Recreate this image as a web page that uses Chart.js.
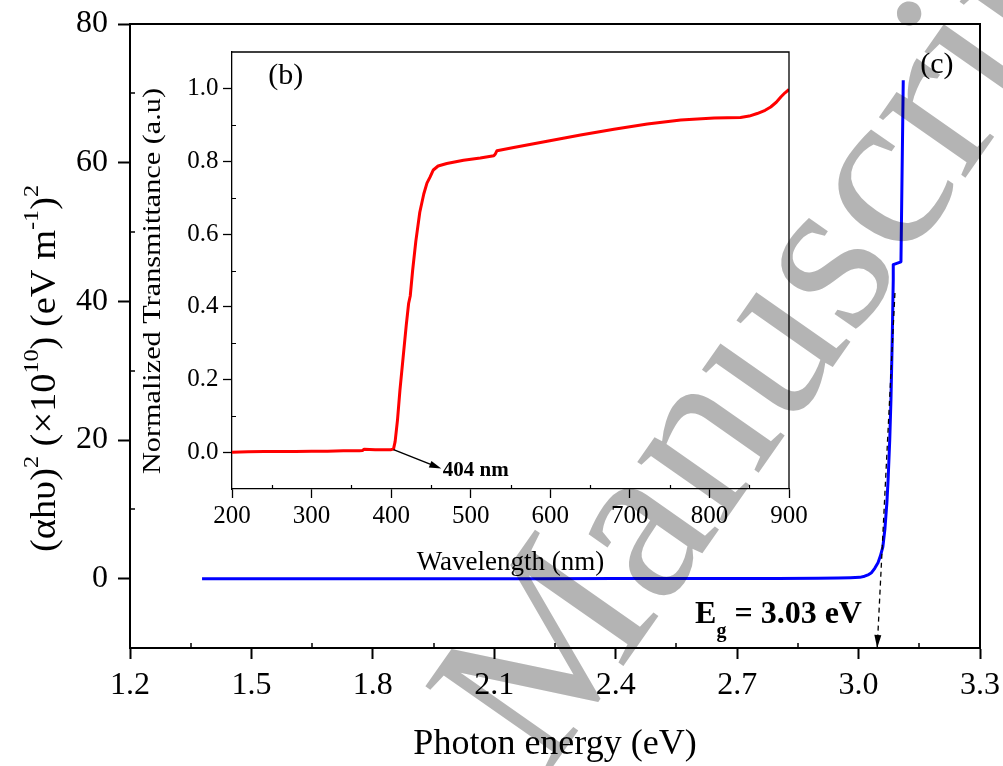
<!DOCTYPE html>
<html><head><meta charset="utf-8">
<script src="https://cdn.jsdelivr.net/npm/chart.js@4.4.0/dist/chart.umd.min.js"></script>
<style>
html,body{margin:0;padding:0;background:#fff;}
#wrap{position:relative;width:1003px;height:766px;overflow:hidden;background:#fff;}
#wrap canvas{position:absolute;left:0;top:0;}
</style></head><body>
<div id="wrap"><canvas id="main" width="1003" height="766"></canvas><canvas id="inset" width="1003" height="766"></canvas></div>
<script>
// ---------- data ----------
// (c) main panel: (alpha h nu)^2 vs photon energy
const photonEnergy = [1.378,1.6,1.8,2.0,2.2,2.4,2.6,2.8,2.9,2.95,2.98,3.003,3.015,3.025,3.032,3.040,3.048,3.054,3.060,3.065,3.070,3.073,3.077,3.080,3.083,3.0857,3.0857,3.1047,3.1104];
const ahv2 = [0,0,0,0,0,0.01,0.02,0.04,0.06,0.09,0.13,0.19,0.35,0.6,0.86,1.5,2.3,3.3,4.6,7.1,11,14.3,20,25.8,34,43.1,45.3,45.7,71.9];
// tangent (dashed) extrapolation to the energy axis
const tangentEnergy = [3.0898, 3.046];
const tangentValue = [41.2, -10];
// (b) inset: normalized transmittance vs wavelength
const wavelength = [200,220,240,260,280,300,320,340,360,364,366,380,395,400,403,405,408,411,415,419,422,424,427,431,436,441,445,449,453,459,470,491,512,529,531,533,554,596,638,680,722,764,806,839,850,860,870,877,884,890,895,900];
const transmittance = [0.001,0.002,0.003,0.003,0.003,0.004,0.004,0.005,0.005,0.006,0.009,0.008,0.008,0.008,0.010,0.03,0.09,0.17,0.26,0.35,0.41,0.43,0.50,0.58,0.66,0.71,0.74,0.757,0.776,0.787,0.794,0.803,0.809,0.815,0.82,0.829,0.838,0.855,0.872,0.888,0.902,0.913,0.919,0.920,0.924,0.931,0.940,0.949,0.962,0.977,0.988,0.997];
// tick labels
const mainXTicks = [1.2,1.5,1.8,2.1,2.4,2.7,3.0,3.3];
const mainYTicks = [0,20,40,60,80];
const insetXTicks = [200,300,400,500,600,700,800,900];
const insetYTicks = [0.0,0.2,0.4,0.6,0.8,1.0];
// annotations (data coordinates)
const arrowFrom = [403, 0.008];
const arrowTo = [463, -0.044];

const SERIF = "'Liberation Serif','Times New Roman',serif";

function minorOf(arr){const m=[];for(let i=0;i<arr.length-1;i++)m.push((arr[i]+arr[i+1])/2);return m;}
function arrowHead(ctx,fx,fy,tx,ty,len,half){
  const ang=Math.atan2(ty-fy,tx-fx);
  ctx.save();ctx.translate(tx,ty);ctx.rotate(ang);
  ctx.beginPath();ctx.moveTo(0,0);ctx.lineTo(-len,-half);ctx.lineTo(-len,half);ctx.closePath();
  ctx.fillStyle='#000';ctx.fill();ctx.restore();
}
function richParts(ctx,parts,F,family,bold){
  let w=0;
  parts.forEach(p=>{ctx.font=(bold?'bold ':'')+Math.round(F*p.s)+'px '+family;p.w=ctx.measureText(p.t).width;w+=p.w;});
  return w;
}
function drawParts(ctx,parts,F,family,bold,x0,y0){
  let x=x0;
  parts.forEach(p=>{ctx.font=(bold?'bold ':'')+Math.round(F*p.s)+'px '+family;ctx.fillText(p.t,x,y0+(p.dy||0)*F);x+=p.w;});
}

const mainDeco = {
  id:'mainDeco',
  beforeDraw(chart){const c=chart.ctx;c.save();c.fillStyle='#fff';c.fillRect(0,0,chart.width,chart.height);c.restore();},
  afterDatasetsDraw(chart){
    const meta=chart.getDatasetMeta(1);
    const p0=meta.data[0],p1=meta.data[1];
    arrowHead(chart.ctx,p0.x,p0.y,p1.x,p1.y,13,3.5);
  },
  afterDraw(chart){
    const {ctx,chartArea:a,scales:{x,y}}=chart;
    ctx.save();
    ctx.strokeStyle='#000';ctx.lineWidth=2;
    ctx.beginPath();ctx.moveTo(a.left,a.top);ctx.lineTo(a.right,a.top);ctx.lineTo(a.right,a.bottom);ctx.stroke();
    ctx.lineWidth=1.5;ctx.beginPath();
    minorOf(mainXTicks).forEach(v=>{const p=Math.round(x.getPixelForValue(v));ctx.moveTo(p,a.bottom);ctx.lineTo(p,a.bottom-5);});
    minorOf(mainYTicks).forEach(v=>{const p=Math.round(y.getPixelForValue(v));ctx.moveTo(a.left,p);ctx.lineTo(a.left+5,p);});
    ctx.stroke();
    ctx.fillStyle='#000';
    // y axis title with superscripts
    const parts=[{t:'(αhυ)',s:1},{t:'2',s:0.62,dy:-0.48},{t:' (×10',s:1},{t:'10',s:0.62,dy:-0.48},{t:') (eV m',s:1},{t:'-1',s:0.62,dy:-0.48},{t:')',s:1},{t:'2',s:0.62,dy:-0.48}];
    const F=35;const W=richParts(ctx,parts,F,SERIF,false);
    ctx.save();ctx.translate(55,368.5);ctx.rotate(-Math.PI/2);ctx.scale(367/W,1);
    ctx.textAlign='left';ctx.textBaseline='alphabetic';
    drawParts(ctx,parts,F,SERIF,false,-W/2,0);
    ctx.restore();
    // panel label (c)
    ctx.font='30px '+SERIF;ctx.textAlign='center';ctx.textBaseline='middle';
    ctx.fillText('(c)',x.getPixelForValue(3.1936),y.getPixelForValue(74.1));
    // E_g label
    const ex=x.getPixelForValue(2.596),ey=y.getPixelForValue(-6.34);
    ctx.textAlign='left';ctx.textBaseline='alphabetic';
    ctx.font='bold 32px '+SERIF;ctx.fillText('E',ex,ey);
    let w=ctx.measureText('E').width;
    ctx.font='bold 20px '+SERIF;ctx.fillText('g',ex+w,ey+14);
    w+=ctx.measureText('g').width;
    ctx.font='bold 32px '+SERIF;ctx.fillText(' = 3.03 eV',ex+w,ey);
    ctx.restore();
    // watermark
    ctx.save();
    ctx.globalCompositeOperation='multiply';
    ctx.fillStyle='rgb(180,180,180)';
    ctx.font='230px '+SERIF;
    ctx.translate(545,778);ctx.rotate(-55*Math.PI/180);
    ctx.textAlign='left';ctx.textBaseline='alphabetic';
    ctx.fillText('Manuscript',0,0);
    ctx.restore();
  }
};

new Chart(document.getElementById('main'),{
  type:'scatter',
  data:{datasets:[
    {label:'(αhυ)²',data:photonEnergy.map((e,i)=>({x:e,y:ahv2[i]})),showLine:true,borderColor:'#0000ff',borderWidth:3,pointRadius:0,tension:0,order:2,borderJoinStyle:'round'},
    {label:'tangent',data:tangentEnergy.map((e,i)=>({x:e,y:tangentValue[i]})),showLine:true,borderColor:'#000',borderWidth:1.3,borderDash:[5,4],pointRadius:0,order:1}
  ]},
  options:{
    responsive:false,animation:false,devicePixelRatio:1,events:[],
    layout:{padding:{left:0,top:24,right:23,bottom:0}},
    plugins:{legend:{display:false},tooltip:{enabled:false}},
    scales:{
      x:{type:'linear',position:'bottom',min:1.2,max:3.3,
        afterBuildTicks:s=>{s.ticks=mainXTicks.map(v=>({value:v}));},
        afterFit:s=>{s.height=118;s.paddingLeft=0;s.paddingRight=0;},
        ticks:{font:{family:SERIF,size:32},color:'#000',padding:7,maxRotation:0,minRotation:0,autoSkip:false,callback:v=>Number(v).toFixed(1)},
        grid:{drawOnChartArea:false,drawTicks:true,tickLength:11,tickWidth:2,tickColor:'#000'},
        border:{display:true,color:'#000',width:2},
        title:{display:true,text:'Photon energy (eV)',font:{family:SERIF,size:36},color:'#000',padding:{top:0,bottom:0}}},
      y:{type:'linear',position:'left',min:-10,max:80,
        afterBuildTicks:s=>{s.ticks=mainYTicks.map(v=>({value:v}));},
        afterFit:s=>{s.width=130;s.paddingTop=0;s.paddingBottom=0;},
        ticks:{font:{family:SERIF,size:32},color:'#000',padding:10,autoSkip:false,callback:v=>String(v)},
        grid:{drawOnChartArea:false,drawTicks:true,tickLength:12,tickWidth:2,tickColor:'#000'},
        border:{display:true,color:'#000',width:2},
        title:{display:false}}
    }
  },
  plugins:[mainDeco]
});

const insetDeco = {
  id:'insetDeco',
  afterDraw(chart){
    const {ctx,chartArea:a,scales:{x,y}}=chart;
    ctx.save();
    ctx.strokeStyle='#000';ctx.lineWidth=1.3;
    ctx.beginPath();ctx.moveTo(a.left,a.top);ctx.lineTo(a.right,a.top);ctx.lineTo(a.right,a.bottom);ctx.stroke();
    ctx.lineWidth=1.2;ctx.beginPath();
    minorOf(insetXTicks).forEach(v=>{const p=Math.round(x.getPixelForValue(v))+0.5;ctx.moveTo(p,a.bottom);ctx.lineTo(p,a.bottom-4);});
    minorOf(insetYTicks).forEach(v=>{const p=Math.round(y.getPixelForValue(v))+0.5;ctx.moveTo(a.left,p);ctx.lineTo(a.left+4,p);});
    ctx.stroke();
    // arrow to 404 nm label
    const fx=x.getPixelForValue(arrowFrom[0]),fy=y.getPixelForValue(arrowFrom[1]);
    const tx=x.getPixelForValue(arrowTo[0]),ty=y.getPixelForValue(arrowTo[1]);
    ctx.lineWidth=1.5;ctx.beginPath();ctx.moveTo(fx,fy);
    const ang=Math.atan2(ty-fy,tx-fx);
    ctx.lineTo(tx-10*Math.cos(ang),ty-10*Math.sin(ang));ctx.stroke();
    arrowHead(ctx,fx,fy,tx,ty,12,3.5);
    ctx.fillStyle='#000';
    ctx.font='bold 21px '+SERIF;ctx.textAlign='left';ctx.textBaseline='alphabetic';
    ctx.fillText('404 nm',x.getPixelForValue(465),y.getPixelForValue(-0.065));
    // (b)
    ctx.font='30px '+SERIF;ctx.textAlign='center';ctx.textBaseline='middle';
    ctx.fillText('(b)',x.getPixelForValue(267.6),y.getPixelForValue(1.034));
    // y title
    const txt='Normalized Transmittance (a.u)';
    ctx.font='26px '+SERIF;
    const W=ctx.measureText(txt).width;
    ctx.save();ctx.translate(153,281);ctx.rotate(-Math.PI/2);ctx.scale(386/W,1);
    ctx.textAlign='center';ctx.textBaseline='middle';ctx.fillText(txt,0,0);
    ctx.restore();
    ctx.restore();
  }
};

new Chart(document.getElementById('inset'),{
  type:'scatter',
  data:{datasets:[
    {label:'Transmittance',data:wavelength.map((w,i)=>({x:w,y:transmittance[i]})),showLine:true,borderColor:'#ff0000',borderWidth:3,pointRadius:0,tension:0,borderJoinStyle:'round'}
  ]},
  options:{
    responsive:false,animation:false,devicePixelRatio:1,events:[],
    layout:{padding:{left:136,top:52,right:214,bottom:177}},
    plugins:{legend:{display:false},tooltip:{enabled:false}},
    scales:{
      x:{type:'linear',position:'bottom',min:200,max:900,
        afterBuildTicks:s=>{s.ticks=insetXTicks.map(v=>({value:v}));},
        afterFit:s=>{s.height=100;s.paddingLeft=0;s.paddingRight=0;},
        ticks:{font:{family:SERIF,size:25},color:'#000',padding:3,maxRotation:0,minRotation:0,autoSkip:false,callback:v=>String(v)},
        grid:{drawOnChartArea:false,drawTicks:true,tickLength:9,tickWidth:1.3,tickColor:'#000'},
        border:{display:true,color:'#000',width:1.3},
        title:{display:true,text:'Wavelength (nm)',font:{family:SERIF,size:27},color:'#000',padding:{top:0,bottom:10}}},
      y:{type:'linear',position:'left',min:-0.1,max:1.1,
        afterBuildTicks:s=>{s.ticks=insetYTicks.map(v=>({value:v}));},
        afterFit:s=>{s.width=96;s.paddingTop=0;s.paddingBottom=0;},
        ticks:{font:{family:SERIF,size:25},color:'#000',padding:4.5,autoSkip:false,callback:v=>Number(v).toFixed(1)},
        grid:{drawOnChartArea:false,drawTicks:true,tickLength:9,tickWidth:1.3,tickColor:'#000'},
        border:{display:true,color:'#000',width:1.3},
        title:{display:false}}
    }
  },
  plugins:[insetDeco]
});
</script>
</body></html>
